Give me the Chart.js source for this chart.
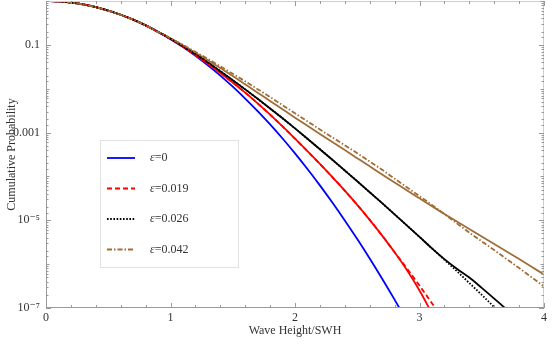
<!DOCTYPE html>
<html>
<head>
<meta charset="utf-8">
<script src="https://cdn.jsdelivr.net/npm/chart.js@4"></script>
<style>
  html, body { margin: 0; padding: 0; background: #fff; }
  #wrap { width: 554px; height: 364px; }
</style>
</head>
<body>
<div id="wrap"><canvas id="myChart" width="554" height="364"></canvas></div>
<script>
// wave height / SWH, 0 .. 4 step 0.1
const heights = [0, 0.1, 0.2, 0.3, 0.4, 0.5, 0.6, 0.7, 0.8, 0.9,
  1.0, 1.1, 1.2, 1.3, 1.4, 1.5, 1.6, 1.7, 1.8, 1.9,
  2.0, 2.1, 2.2, 2.3, 2.4, 2.5, 2.6, 2.7, 2.8, 2.9,
  3.0, 3.1, 3.2, 3.3, 3.4, 3.5, 3.6, 3.7, 3.8, 3.9, 4.0];

// cumulative probability, read as log10 exponents off the picture
// all curves share the part below H = 1
const headLog = [0, -0.009, -0.035, -0.078, -0.139, -0.217, -0.313, -0.426, -0.556, -0.704];

const eps0Log = [-0.869, -1.051, -1.251, -1.468, -1.702, -1.954, -2.224, -2.510, -2.814, -3.136,
  -3.474, -3.831, -4.204, -4.595, -5.003, -5.429, -5.872, -6.332, -6.810, -7.305];

const eps019Log = [-0.86, -1.04, -1.23, -1.43, -1.64, -1.86, -2.09, -2.335, -2.59, -2.86,
  -3.14, -3.425, -3.715, -4.015, -4.325, -4.65, -4.99, -5.35, -5.73, -6.14, -6.60, -7.12];
const eps019DashLog = [-0.86, -1.04, -1.23, -1.43, -1.64, -1.86, -2.09, -2.335, -2.59, -2.86,
  -3.14, -3.425, -3.715, -4.015, -4.325, -4.65, -4.99, -5.35, -5.73, -6.10, -6.49, -6.89, -7.30];

const eps026Log = [-0.86, -1.03, -1.21, -1.40, -1.60, -1.805, -2.015, -2.23, -2.45, -2.675,
  -2.905, -3.14, -3.38, -3.62, -3.865, -4.11, -4.36, -4.61, -4.865, -5.12,
  -5.38, -5.64, -5.885, -6.105, -6.305, -6.54, -6.785, -7.035, -7.30];
const eps026DotLog = [-0.86, -1.03, -1.21, -1.40, -1.60, -1.805, -2.015, -2.23, -2.45, -2.675,
  -2.905, -3.14, -3.38, -3.62, -3.865, -4.11, -4.36, -4.61, -4.865, -5.12,
  -5.38, -5.64, -5.90, -6.16, -6.43, -6.70, -6.98, -7.27];

const eps042Log = [-0.85, -1.01, -1.18, -1.35, -1.53, -1.71, -1.90, -2.09, -2.28, -2.47,
  -2.66, -2.845, -3.03, -3.215, -3.40, -3.585, -3.77, -3.955, -4.14, -4.32,
  -4.50, -4.68, -4.855, -5.03, -5.20, -5.37, -5.54, -5.71, -5.885, -6.06, -6.235];
const eps042DashLog = [-0.85, -1.00, -1.16, -1.32, -1.49, -1.66, -1.83, -2.01, -2.19, -2.375,
  -2.56, -2.745, -2.93, -3.11, -3.29, -3.47, -3.66, -3.85, -4.05, -4.25,
  -4.45, -4.65, -4.86, -5.07, -5.28, -5.48, -5.68, -5.885, -6.09, -6.30, -6.51];

const legendLabels = ['=0', '=0.019', '=0.026', '=0.042'];
const yLabelExp = { '-1': '0.1', '-3': '0.001', '-5': '10\u207B\u2075', '-7': '10\u207B\u2077' };

const BLUE = 'rgb(0,0,255)';
const RED = 'rgb(255,0,0)';
const BLACK = 'rgb(0,0,0)';
const BROWN = 'rgb(160,110,55)';
const SERIF = '"Liberation Serif", "DejaVu Serif", serif';

function pts(tail) {
  const logs = headLog.concat(tail);
  return logs.map(function (v, i) { return { x: heights[i], y: Math.pow(10, v) }; });
}

function line(label, tail, color, dash) {
  return {
    label: label,
    data: pts(tail),
    borderColor: color,
    backgroundColor: color,
    borderWidth: 1.8,
    borderDash: dash,
    pointRadius: 0,
    cubicInterpolationMode: 'monotone',
    fill: false
  };
}

const datasets = [
  line('e042d', eps042DashLog, BROWN, [5, 2, 1.5, 2]),
  line('e026d', eps026DotLog, BLACK, [1.6, 1.6]),
  line('e019d', eps019DashLog, RED, [5, 3]),
  line('e042', eps042Log, BROWN, []),
  line('e026', eps026Log, BLACK, []),
  line('e019', eps019Log, RED, []),
  line('e0', eps0Log, BLUE, [])
];

// legend entries: style of each sample line
const legendStyles = [
  { color: BLUE, dash: [] },
  { color: RED, dash: [5, 3] },
  { color: BLACK, dash: [1.6, 1.6] },
  { color: BROWN, dash: [5, 2, 1.5, 2] }
];

function isInt(v) { return Math.abs(v - Math.round(v)) < 1e-6; }

const framePlugin = {
  id: 'frame',
  afterDraw: function (chart) {
    const ctx = chart.ctx;
    const a = chart.chartArea;
    const xs = chart.scales.x;
    const ys = chart.scales.y;
    ctx.save();
    ctx.lineWidth = 1;
    // light top / right edges
    ctx.strokeStyle = '#cfcfcf';
    ctx.beginPath();
    ctx.moveTo(a.left, a.top + 0.5); ctx.lineTo(a.right, a.top + 0.5);
    ctx.moveTo(a.right - 0.5, a.top); ctx.lineTo(a.right - 0.5, a.bottom);
    ctx.stroke();
    // axes
    ctx.strokeStyle = '#9a9a9a';
    ctx.beginPath();
    ctx.moveTo(a.left + 0.5, a.top); ctx.lineTo(a.left + 0.5, a.bottom);
    ctx.moveTo(a.left, a.bottom - 0.5); ctx.lineTo(a.right, a.bottom - 0.5);
    ctx.stroke();
    // tick marks pointing inwards
    ctx.beginPath();
    xs.ticks.forEach(function (t) {
      const px = Math.round(xs.getPixelForValue(t.value)) + 0.5;
      const len = isInt(t.value) ? 5 : 3;
      ctx.moveTo(px, a.bottom); ctx.lineTo(px, a.bottom - len);
      ctx.moveTo(px, a.top); ctx.lineTo(px, a.top + len);
    });
    ys.ticks.forEach(function (t) {
      const py = Math.round(ys.getPixelForValue(t.value)) + 0.5;
      const e = Math.log10(t.value);
      const len = isInt(e) ? (isInt(e / 2) ? 3.5 : 5) : 2.5;
      ctx.moveTo(a.left, py); ctx.lineTo(a.left + len, py);
      ctx.moveTo(a.right, py); ctx.lineTo(a.right - len, py);
    });
    ctx.stroke();
    ctx.restore();
  }
};

const legendPlugin = {
  id: 'boxLegend',
  afterDraw: function (chart) {
    const ctx = chart.ctx;
    const x0 = 100, y0 = 140, w = 138, h = 127;
    ctx.save();
    ctx.fillStyle = '#fff';
    ctx.fillRect(x0, y0, w, h);
    ctx.strokeStyle = '#e2e2e2';
    ctx.lineWidth = 1;
    ctx.strokeRect(x0 + 0.5, y0 + 0.5, w, h);
    ctx.textBaseline = 'middle';
    legendLabels.forEach(function (lab, i) {
      const yy = 158 + i * 30.5;
      const st = legendStyles[i];
      ctx.strokeStyle = st.color;
      ctx.lineWidth = 1.8;
      ctx.setLineDash(st.dash);
      ctx.beginPath();
      ctx.moveTo(107, yy); ctx.lineTo(135, yy);
      ctx.stroke();
      ctx.setLineDash([]);
      ctx.fillStyle = '#333';
      ctx.font = 'italic 12px ' + SERIF;
      ctx.fillText('\u03B5', 150, yy);
      const ew = ctx.measureText('\u03B5').width;
      ctx.font = '12px ' + SERIF;
      ctx.fillText(lab, 150 + ew, yy);
    });
    ctx.restore();
  }
};

var ctx = document.getElementById('myChart').getContext('2d');
var chart = new Chart(ctx, {
  type: 'line',
  data: { datasets: datasets },
  options: {
    responsive: false,
    animation: false,
    layout: { padding: { top: 1, right: 10, left: 0, bottom: 0 } },
    plugins: { legend: { display: false }, tooltip: { enabled: false } },
    scales: {
      x: {
        type: 'linear',
        min: 0,
        max: 4,
        afterFit: function (s) { s.height = 56; s.paddingLeft = 0; s.paddingRight = 0; },
        grid: { display: false, drawTicks: false },
        border: { display: false },
        ticks: {
          stepSize: 0.2,
          autoSkip: false,
          maxRotation: 0,
          padding: 3,
          color: '#333',
          font: { family: SERIF, size: 12 },
          callback: function (v) { return isInt(v) ? String(Math.round(v)) : ''; }
        },
        title: {
          display: true,
          text: 'Wave Height/SWH',
          color: '#333',
          font: { family: SERIF, size: 12 },
          padding: { top: 0, bottom: 26 }
        }
      },
      y: {
        type: 'logarithmic',
        min: 1e-7,
        max: 1,
        afterFit: function (s) { s.width = 46; s.paddingTop = 0; s.paddingBottom = 0; },
        grid: { display: false, drawTicks: false },
        border: { display: false },
        ticks: {
          autoSkip: false,
          padding: 6,
          color: '#333',
          font: { family: SERIF, size: 12 },
          callback: function (v) {
            const e = Math.log10(v);
            if (!isInt(e)) return '';
            return yLabelExp[String(Math.round(e))] || '';
          }
        },
        title: {
          display: true,
          text: 'Cumulative Probability',
          color: '#333',
          font: { family: SERIF, size: 12 },
          padding: { top: 5, bottom: 0 }
        }
      }
    }
  },
  plugins: [framePlugin, legendPlugin]
});
</script>
</body>
</html>
